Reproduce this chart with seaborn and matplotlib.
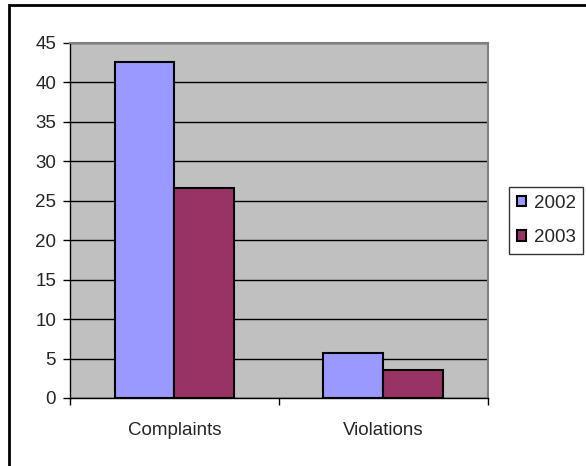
import matplotlib

matplotlib.use("Agg")

import matplotlib.pyplot as plt
import pandas as pd
import seaborn as sns
from matplotlib.patches import Rectangle

categories = ["Complaints", "Violations"]
years = ["2002", "2003"]
values_2002 = [42.6, 5.7]
values_2003 = [26.6, 3.5]
colors = ["#9999FF", "#993366"]

frame = pd.DataFrame({
    "category": categories * 2,
    "year": [years[0]] * 2 + [years[1]] * 2,
    "value": values_2002 + values_2003,
})

sns.set_style("white")
plt.rcParams["font.family"] = ["Liberation Sans", "DejaVu Sans"]

fig = plt.figure(figsize=(5.86, 4.66), dpi=100)
ax = fig.add_axes([0.1195, 0.146, 0.713, 0.762])
ax.set_facecolor("#C0C0C0")

sns.barplot(
    data=frame, x="category", y="value", hue="year", palette=colors, saturation=1,
    width=0.574, gap=0, edgecolor="black", linewidth=1.5, ax=ax, zorder=3,
)

ax.set_ylim(0, 45)
ax.set_xlim(-0.5, 1.5)
ax.set_yticks(range(0, 46, 5))
ax.yaxis.grid(True, color="black", linewidth=1, zorder=0)
ax.set_axisbelow(True)
ax.set_xlabel("")
ax.set_ylabel("")
ax.tick_params(axis="y", labelsize=13.5, length=5, width=1, color="black", direction="out", left=True, pad=5)
ax.tick_params(axis="x", labelsize=13.5, length=0, pad=17)
ax.set_xticks([-0.5, 0.5, 1.5], minor=True)
ax.tick_params(axis="x", which="minor", length=5, width=1, color="black", direction="out", bottom=True)

for side in ["top", "right"]:
    ax.spines[side].set_color("#808080")
    ax.spines[side].set_linewidth(1.5)
for side in ["left", "bottom"]:
    ax.spines[side].set_color("black")
    ax.spines[side].set_linewidth(1)

handles, labels = ax.get_legend_handles_labels()
ax.legend_.remove()
leg = fig.legend(
    handles, labels, loc="center", bbox_to_anchor=(0.932, 0.527),
    fontsize=13.5, frameon=True, fancybox=False, edgecolor="black",
    handlelength=0.5, handleheight=0.5, handletextpad=0.4, labelspacing=0.95,
    borderpad=0.42, borderaxespad=0,
)
leg.get_frame().set_linewidth(1)

# outer chart frame, cut off at right and bottom like the reference
fig.patches.append(Rectangle((0.015, -0.05), 1.1, 1.039, transform=fig.transFigure,
                             fill=False, edgecolor="black", linewidth=2))

plt.savefig("out.png", dpi=100)
plt.close()
